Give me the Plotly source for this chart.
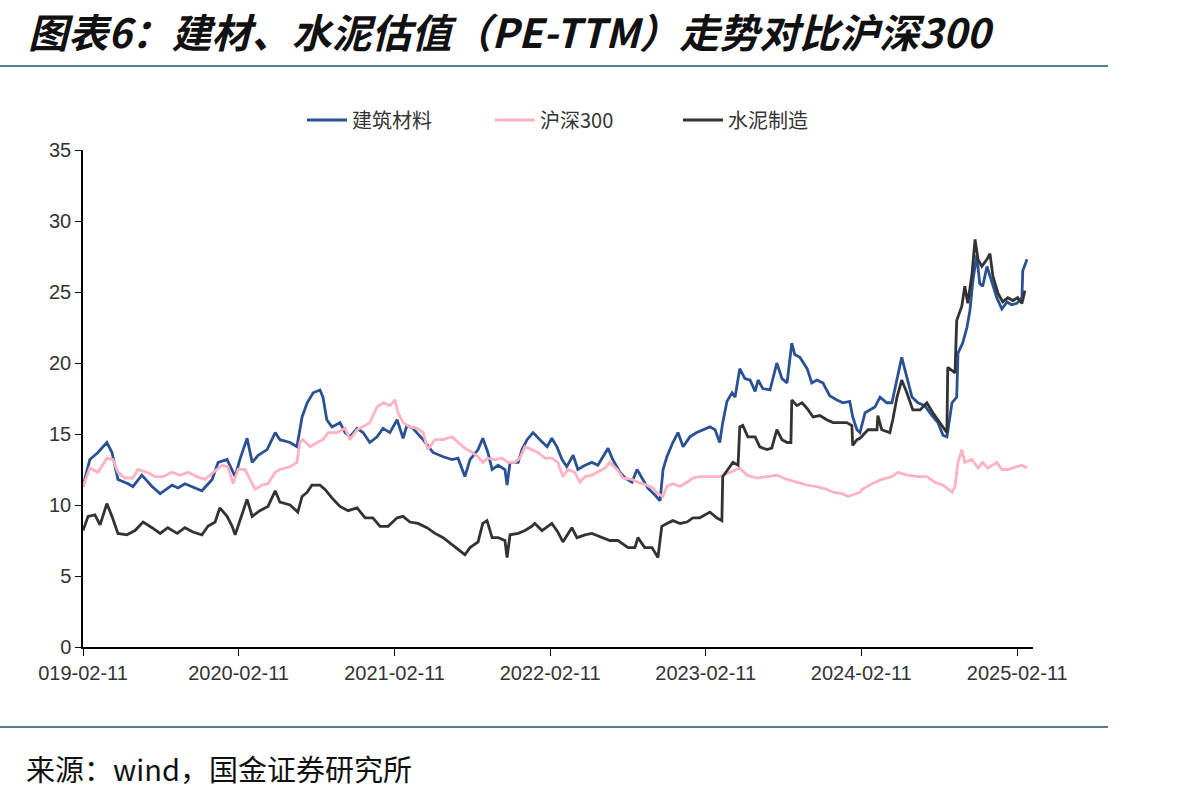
import plotly.graph_objects as go

# ---------------- data ----------------
jc_dates = ["2019-02-11","2019-02-27","2019-03-18","2019-04-08","2019-04-20","2019-05-04","2019-05-28","2019-06-08","2019-06-29","2019-07-23",
"2019-08-11","2019-09-08","2019-09-22","2019-10-08","2019-11-01","2019-11-17","2019-12-11","2019-12-25","2020-01-15","2020-01-27",
"2020-02-03","2020-02-14","2020-03-02","2020-03-14","2020-03-28","2020-04-18","2020-05-07","2020-05-18","2020-06-11","2020-06-27",
"2020-07-09","2020-07-21","2020-08-04","2020-08-20","2020-08-27","2020-09-05","2020-09-17","2020-10-06","2020-10-18","2020-10-29",
"2020-11-15","2020-11-29","2020-12-15","2021-01-01","2021-01-15","2021-01-31","2021-02-17","2021-03-03","2021-03-12","2021-03-26",
"2021-04-19","2021-05-12","2021-06-05","2021-06-26","2021-07-10","2021-07-26","2021-08-07","2021-08-26","2021-09-06","2021-09-18",
"2021-09-28","2021-10-12","2021-10-28","2021-11-02","2021-11-09","2021-11-28","2021-12-07","2021-12-19","2022-01-02","2022-01-18",
"2022-02-04","2022-02-15","2022-02-27","2022-03-11","2022-03-22","2022-04-06","2022-04-17","2022-05-04","2022-05-20","2022-06-03",
"2022-06-20","2022-06-27","2022-07-08","2022-07-25","2022-08-06","2022-08-22","2022-09-03","2022-09-14","2022-09-28","2022-10-15",
"2022-10-27","2022-11-03","2022-11-12","2022-11-26","2022-12-08","2022-12-20","2023-01-05","2023-01-21","2023-02-05","2023-02-21",
"2023-03-05","2023-03-16","2023-03-23","2023-04-02","2023-04-14","2023-04-21","2023-05-02","2023-05-14","2023-05-26","2023-06-07",
"2023-06-14","2023-06-25","2023-07-12","2023-07-28","2023-08-09","2023-08-21","2023-09-01","2023-09-08","2023-09-20","2023-10-07",
"2023-10-18","2023-10-30","2023-11-13","2023-11-29","2023-12-16","2023-12-30","2024-01-15","2024-01-22","2024-02-01","2024-02-08",
"2024-02-20","2024-03-14","2024-03-26","2024-04-11","2024-04-23","2024-05-05","2024-05-16","2024-05-28","2024-06-09","2024-06-23",
"2024-07-09","2024-07-26","2024-08-09","2024-08-21","2024-08-30","2024-09-11","2024-09-22","2024-09-25","2024-10-06","2024-10-16",
"2024-10-23","2024-10-30","2024-11-08","2024-11-15","2024-11-22","2024-12-02","2024-12-13","2024-12-25","2025-01-06","2025-01-18",
"2025-01-29","2025-02-10","2025-02-22","2025-02-24","2025-03-06"]
jc_values = [11.3,13.2,13.7,14.4,13.7,11.8,11.5,11.3,12.1,11.3,
10.8,11.4,11.2,11.5,11.2,11.0,11.8,13.0,13.2,12.5,
12.0,13.2,14.7,13.0,13.5,13.9,15.1,14.6,14.4,14.1,
16.2,17.2,17.9,18.1,17.6,16.0,15.5,15.8,15.1,14.8,
15.4,15.1,14.4,14.8,15.4,15.1,16.0,14.7,15.6,15.4,
14.6,13.7,13.4,13.2,13.3,12.0,13.2,13.9,14.7,13.7,
12.5,12.8,12.5,11.4,13.0,13.0,13.9,14.6,15.1,14.6,
14.1,14.7,14.1,13.2,12.7,13.5,12.5,12.8,13.0,12.8,
13.7,14.0,13.2,12.3,11.9,11.6,12.5,11.9,11.2,10.7,
10.3,12.5,13.4,14.4,15.1,14.1,14.8,15.1,15.3,15.5,
15.3,14.4,15.8,17.3,17.9,17.6,19.6,18.9,18.8,18.0,
18.8,18.2,18.1,20.0,18.9,18.6,21.4,20.6,20.4,19.6,
18.6,18.8,18.6,17.7,17.4,17.2,17.3,16.2,15.3,15.1,
16.5,16.9,17.6,17.2,17.2,19.0,20.4,19.0,17.6,17.2,
17.0,16.3,15.8,14.9,14.8,17.2,17.6,20.7,21.4,22.5,
23.7,25.8,27.6,25.6,25.4,26.8,25.8,24.6,23.8,24.3,
24.1,24.2,24.6,26.5,27.3]

hs_dates = ["2019-02-11","2019-02-27","2019-03-18","2019-04-08","2019-04-22","2019-05-04","2019-05-21","2019-06-08","2019-06-20","2019-07-11",
"2019-07-30","2019-08-18","2019-09-08","2019-09-27","2019-10-15","2019-11-05","2019-11-24","2019-12-13","2020-01-03","2020-01-17",
"2020-01-29","2020-02-10","2020-02-26","2020-03-09","2020-03-21","2020-04-06","2020-04-20","2020-05-07","2020-05-18","2020-06-11",
"2020-06-27","2020-07-04","2020-07-11","2020-07-28","2020-08-13","2020-08-27","2020-09-08","2020-09-29","2020-10-18","2020-10-29",
"2020-11-15","2020-12-04","2020-12-15","2021-01-01","2021-01-15","2021-01-31","2021-02-12","2021-02-19","2021-03-03","2021-03-19",
"2021-04-05","2021-04-19","2021-04-30","2021-05-17","2021-06-05","2021-06-26","2021-07-10","2021-07-26","2021-08-12","2021-08-26",
"2021-09-06","2021-09-18","2021-10-05","2021-10-21","2021-11-04","2021-11-20","2021-12-02","2021-12-14","2021-12-30","2022-01-13",
"2022-01-30","2022-02-15","2022-03-01","2022-03-13","2022-03-25","2022-04-10","2022-04-22","2022-05-04","2022-05-20","2022-06-03",
"2022-06-20","2022-07-01","2022-07-18","2022-08-01","2022-08-22","2022-09-05","2022-09-26","2022-10-10","2022-10-22","2022-11-03",
"2022-11-12","2022-11-26","2022-12-13","2022-12-29","2023-01-12","2023-01-28","2023-02-21","2023-03-16","2023-04-09","2023-05-02",
"2023-05-19","2023-06-11","2023-07-05","2023-07-28","2023-08-21","2023-09-13","2023-10-07","2023-10-30","2023-11-22","2023-12-07",
"2023-12-28","2024-01-11","2024-01-22","2024-02-08","2024-02-13","2024-03-07","2024-03-30","2024-04-23","2024-05-07","2024-05-30",
"2024-06-23","2024-07-14","2024-08-02","2024-08-21","2024-09-11","2024-09-18","2024-09-25","2024-10-04","2024-10-11","2024-10-28",
"2024-11-11","2024-11-22","2024-12-04","2024-12-25","2025-01-06","2025-01-20","2025-02-10","2025-02-22","2025-03-06"]
hs_values = [11.3,12.6,12.3,13.3,13.2,12.3,11.9,11.9,12.5,12.3,
12.0,12.0,12.3,12.1,12.3,12.0,11.8,12.3,12.8,12.7,
11.5,12.5,12.5,11.8,11.1,11.4,11.5,12.3,12.5,12.7,
13.0,14.4,14.6,14.1,14.4,14.6,15.1,15.1,15.4,14.6,
15.3,15.6,15.8,16.9,17.2,17.0,17.4,16.5,15.8,15.5,
15.4,15.1,13.9,14.6,14.6,14.8,14.4,14.0,13.7,13.4,
13.0,13.3,13.2,13.3,13.0,13.0,13.3,14.1,13.9,13.7,
13.3,13.3,13.0,12.0,12.5,12.3,11.6,12.0,12.1,12.3,
12.6,13.0,12.5,11.9,11.8,11.6,11.4,11.2,10.8,10.6,
11.3,11.5,11.3,11.6,11.9,12.0,12.0,12.0,12.3,12.6,
12.1,11.9,12.0,12.1,11.8,11.6,11.4,11.3,11.1,10.9,
10.8,10.6,10.7,10.9,11.1,11.5,11.8,12.0,12.3,12.1,
12.0,12.0,11.6,11.4,10.9,11.3,13.0,13.9,13.0,13.2,
12.6,13.0,12.6,13.0,12.5,12.5,12.7,12.8,12.6]

sn_dates = ["2019-02-11","2019-02-23","2019-03-11","2019-03-23","2019-04-08","2019-04-20","2019-05-04","2019-05-25","2019-06-13","2019-07-02",
"2019-07-23","2019-08-11","2019-08-29","2019-09-20","2019-10-08","2019-10-27","2019-11-17","2019-12-01","2019-12-18","2019-12-29",
"2020-01-15","2020-01-27","2020-02-03","2020-02-14","2020-03-02","2020-03-14","2020-04-01","2020-04-20","2020-05-07","2020-05-18",
"2020-06-11","2020-06-29","2020-07-09","2020-07-21","2020-08-01","2020-08-20","2020-09-01","2020-09-17","2020-10-06","2020-10-25",
"2020-11-15","2020-12-04","2020-12-22","2021-01-08","2021-01-27","2021-02-17","2021-03-03","2021-03-19","2021-04-07","2021-04-28",
"2021-05-17","2021-06-05","2021-06-26","2021-07-14","2021-07-26","2021-08-07","2021-08-26","2021-09-06","2021-09-16","2021-09-28",
"2021-10-12","2021-10-28","2021-11-02","2021-11-09","2021-11-28","2021-12-14","2021-12-30","2022-01-06","2022-01-23","2022-02-15",
"2022-03-01","2022-03-13","2022-04-03","2022-04-15","2022-05-04","2022-05-20","2022-06-13","2022-07-01","2022-07-20","2022-08-13",
"2022-08-29","2022-09-05","2022-09-21","2022-10-08","2022-10-22","2022-10-31","2022-11-12","2022-11-26","2022-12-13","2022-12-29",
"2023-01-12","2023-01-28","2023-02-21","2023-03-09","2023-03-21","2023-03-23","2023-04-04","2023-04-16","2023-04-28","2023-05-02",
"2023-05-09","2023-05-21","2023-06-07","2023-06-18","2023-07-05","2023-07-16","2023-07-28","2023-08-09","2023-08-21","2023-08-30",
"2023-09-01","2023-09-13","2023-09-25","2023-10-07","2023-10-21","2023-11-06","2023-11-22","2023-12-07","2023-12-23","2024-01-08",
"2024-01-20","2024-01-22","2024-02-01","2024-02-08","2024-02-27","2024-03-19","2024-03-21","2024-03-30","2024-04-18","2024-04-25",
"2024-05-05","2024-05-16","2024-05-28","2024-06-11","2024-06-28","2024-07-14","2024-07-28","2024-08-09","2024-08-21","2024-08-30",
"2024-09-01","2024-09-11","2024-09-18","2024-09-22","2024-10-04","2024-10-11","2024-10-18","2024-10-28","2024-11-04","2024-11-11",
"2024-11-20","2024-12-02","2024-12-09","2024-12-16","2024-12-28","2025-01-08","2025-01-20","2025-02-01","2025-02-12","2025-02-22",
"2025-03-01"]
sn_values = [8.2,9.2,9.3,8.6,10.1,9.2,8.0,7.9,8.2,8.8,
8.4,8.0,8.4,8.0,8.4,8.1,7.9,8.5,8.8,9.8,
9.2,8.5,7.9,8.9,10.4,9.2,9.6,9.9,11.0,10.2,
10.0,9.5,10.6,10.9,11.4,11.4,11.1,10.5,9.9,9.6,
9.8,9.1,9.1,8.5,8.5,9.1,9.2,8.8,8.7,8.4,
8.0,7.7,7.2,6.8,6.5,7.0,7.4,8.7,8.9,7.7,
7.7,7.5,6.3,7.9,8.0,8.2,8.5,8.7,8.2,8.7,
8.1,7.4,8.4,7.7,7.9,8.0,7.7,7.5,7.5,7.0,
7.0,7.7,7.0,7.0,6.3,8.5,8.7,8.9,8.7,8.8,
9.1,9.1,9.5,9.1,8.9,12.0,12.5,13.0,12.8,15.5,
15.6,14.8,14.8,14.1,13.9,14.0,15.3,14.6,14.4,14.4,
17.4,17.0,17.2,16.8,16.2,16.3,16.0,15.8,15.8,15.8,
15.6,14.2,14.6,14.7,15.3,15.3,16.3,15.3,15.1,16.0,
17.6,18.8,17.9,16.7,16.7,17.2,16.5,16.0,15.5,15.1,
19.7,19.5,19.3,23.0,24.0,25.4,24.2,26.3,28.7,27.3,
26.8,27.3,27.7,26.1,24.9,24.3,24.6,24.4,24.6,24.2,
25.1]

series_names = ["建筑材料", "沪深300", "水泥制造"]
series_colors = ["#2A5194", "#FFB3C1", "#333333"]

tick_dates = ["2019-02-11","2020-02-11","2021-02-11","2022-02-11","2023-02-11","2024-02-11","2025-02-11"]
tick_labels = ["019-02-11","2020-02-11","2021-02-11","2022-02-11","2023-02-11","2024-02-11","2025-02-11"]
y_ticks = [0, 5, 10, 15, 20, 25, 30, 35]

title_text = "图表6：建材、水泥估值（PE-TTM）走势对比沪深300"
source_text = "来源：wind，国金证券研究所"

# ---------------- figure ----------------
W, H = 1198, 798
L, R, T, B = 83, 165, 150, 151
pw, ph = W - L - R, H - T - B

def px2paper_x(px):
    return (px - L) / pw

def px2paper_y(py):
    return (H - B - py) / ph

fig = go.Figure()
for d, v, n, c in zip([jc_dates, hs_dates, sn_dates], [jc_values, hs_values, sn_values],
                      series_names, series_colors):
    fig.add_trace(go.Scatter(x=d, y=v, name=n, mode="lines",
                             line=dict(color=c, width=2.8)))

cjk = "Noto Sans CJK SC"
fig.update_layout(
    width=W, height=H,
    margin=dict(l=L, r=R, t=T, b=B),
    paper_bgcolor="white", plot_bgcolor="white",
    showlegend=True,
    legend=dict(orientation="h", x=px2paper_x(302), y=px2paper_y(120),
                xanchor="left", yanchor="middle",
                font=dict(family=cjk, size=20, color="#333333"),
                entrywidth=133, entrywidthmode="pixels",
                itemwidth=40, bgcolor="rgba(0,0,0,0)"),
    xaxis=dict(type="date", range=["2019-02-11", "2025-03-20"],
               tickvals=tick_dates, ticktext=tick_labels,
               showgrid=False, zeroline=False,
               showline=True, linecolor="#000000", linewidth=1.5,
               ticks="outside", ticklen=7, tickcolor="#000000", tickwidth=1,
               tickfont=dict(family="Liberation Sans Narrow, Liberation Sans", size=20, color="#333333")),
    yaxis=dict(range=[0, 35], tickvals=y_ticks,
               showgrid=False, zeroline=False,
               showline=True, linecolor="#000000", linewidth=1.5,
               ticks="outside", ticklen=6, tickcolor="#000000", tickwidth=1,
               tickfont=dict(family="Liberation Sans Narrow, Liberation Sans", size=20, color="#333333")),
)

# title as a left-aligned annotation
fig.add_annotation(text="<b><i>" + title_text + "</i></b>", xref="paper", yref="paper",
                   x=px2paper_x(26), y=px2paper_y(31), xanchor="left", yanchor="middle",
                   showarrow=False, font=dict(family=cjk, size=40, color="#111111"))

rule_color = "#567D92"
for py in (66, 727):
    fig.add_shape(type="line", xref="paper", yref="paper",
                  x0=px2paper_x(0), x1=px2paper_x(1108), y0=px2paper_y(py), y1=px2paper_y(py),
                  line=dict(color=rule_color, width=2))

fig.add_annotation(text=source_text, xref="paper", yref="paper",
                   x=px2paper_x(24), y=px2paper_y(768), xanchor="left", yanchor="middle",
                   showarrow=False, font=dict(family=cjk, size=29, color="#111111"))

fig.write_html("out.html")
